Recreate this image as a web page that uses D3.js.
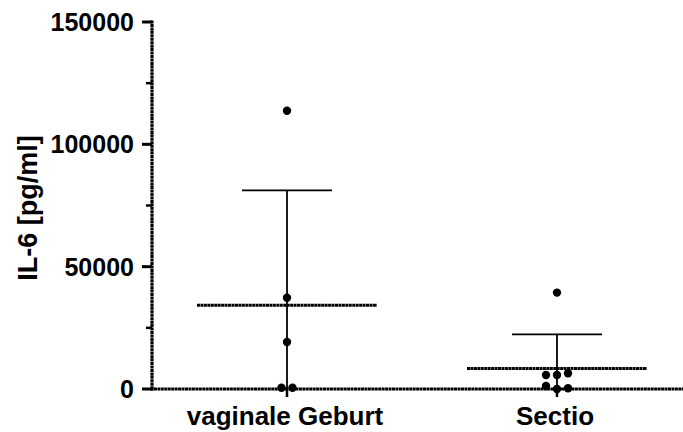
<!DOCTYPE html>
<html>
<head>
<meta charset="utf-8">
<script src="https://cdn.jsdelivr.net/npm/d3@7"></script>
<style>
	html, body { margin: 0; padding: 0; background: #fff; }
	svg { display: block; }
	text { font-family: "Liberation Sans", Arial, sans-serif; font-weight: bold; fill: #000; }
</style>
</head>
<body>
<svg width="683" height="432"></svg>
<script>
(function() {
	"use strict"

	var groups = ["vaginale Geburt", "Sectio"],
		vaginalValues = [113700, 37300, 19200, 500, 500],
		sectioValues = [39400, 5700, 5700, 6400, 1200, 0, 300],
		yTicks = [0, 50000, 100000, 150000],
		yMinorTicks = [25000, 75000, 125000],
		yTitle = "IL-6 [pg/ml]";

	var series = [
		{ name : groups[0], values : vaginalValues },
		{ name : groups[1], values : sectioValues }
	];

	var svg = d3.select("svg"),
		axisX = 152,
		axisY = 389,
		dotRadius = 4.2,
		dotSpacing = 11,
		hatch = "3,0.45";

	var y = d3.scaleLinear().domain([0, 150000]).range([axisY, 22]),
		x = d3.scalePoint().domain(groups).range([axisX, 692]).padding(0.5);

	// beeswarm: points close in y share a row and spread sideways
	function swarm(values) {
		var items = values.map(function(v, i) { return { value : v, index : i }; }),
			sorted = items.slice().sort(function(a, b) { return a.value - b.value; }),
			rows = [],
			row = null;
		sorted.forEach(function(d) {
			if (row && Math.abs(y(d.value) - y(row[0].value)) < 2 * dotRadius + 1) {
				row.push(d);
			} else {
				row = [d];
				rows.push(row);
			}
		});
		rows.forEach(function(r) {
			r.sort(function(a, b) { return a.index - b.index; });
			r.forEach(function(d, i) {
				d.offset = (i - (r.length - 1) / 2) * dotSpacing;
			});
		});
		return items;
	}

	// x axis line
	svg.append("line")
		.attr("x1", axisX - 1.5).attr("x2", 692)
		.attr("y1", axisY).attr("y2", axisY)
		.style("stroke", "#000").style("stroke-width", 3.2)
		.style("stroke-dasharray", hatch);

	// x ticks
	svg.selectAll(".xtick")
		.data(groups)
		.enter()
		.append("line")
			.attr("class", "xtick")
			.attr("x1", function(d) { return x(d); })
			.attr("x2", function(d) { return x(d); })
			.attr("y1", axisY)
			.attr("y2", axisY + 8)
			.style("stroke", "#000").style("stroke-width", 2.5);

	svg.selectAll(".xlabel")
		.data(groups)
		.enter()
		.append("text")
			.attr("class", "xlabel")
			.attr("x", function(d) { return x(d) - 2; })
			.attr("y", 425)
			.attr("text-anchor", "middle")
			.style("font-size", "26px")
			.text(function(d) { return d; });

	// y axis line
	svg.append("line")
		.attr("x1", axisX).attr("x2", axisX)
		.attr("y1", y(150000) - 1.5).attr("y2", axisY + 1.5)
		.style("stroke", "#000").style("stroke-width", 3.2)
		.style("stroke-dasharray", hatch);

	svg.selectAll(".ytick")
		.data(yTicks)
		.enter()
		.append("line")
			.attr("class", "ytick")
			.attr("x1", axisX - 10)
			.attr("x2", axisX)
			.attr("y1", function(d) { return y(d); })
			.attr("y2", function(d) { return y(d); })
			.style("stroke", "#000").style("stroke-width", 3);

	svg.selectAll(".yminor")
		.data(yMinorTicks)
		.enter()
		.append("line")
			.attr("class", "yminor")
			.attr("x1", axisX - 6)
			.attr("x2", axisX)
			.attr("y1", function(d) { return y(d); })
			.attr("y2", function(d) { return y(d); })
			.style("stroke", "#000").style("stroke-width", 2.5);

	svg.selectAll(".ylabel")
		.data(yTicks)
		.enter()
		.append("text")
			.attr("class", "ylabel")
			.attr("x", 134)
			.attr("y", function(d) { return y(d); })
			.attr("dy", "0.36em")
			.attr("text-anchor", "end")
			.style("font-size", "25px")
			.text(function(d) { return d; });

	svg.append("text")
		.attr("transform", "translate(37," + 208 + ") rotate(-90)")
		.attr("text-anchor", "middle")
		.style("font-size", "27px")
		.text(yTitle);

	// groups: mean line, SD error bar, points
	var g = svg.selectAll(".group")
		.data(series)
		.enter()
		.append("g")
			.attr("class", "group");

	g.each(function(s) {
		var sel = d3.select(this),
			cx = x(s.name),
			mean = d3.mean(s.values),
			sd = d3.deviation(s.values),
			lo = Math.max(0, mean - sd);

		sel.append("line")
			.attr("x1", cx).attr("x2", cx)
			.attr("y1", y(mean + sd)).attr("y2", y(lo))
			.style("stroke", "#000").style("stroke-width", 1.8);

		sel.append("line")
			.attr("x1", cx - 45).attr("x2", cx + 45)
			.attr("y1", y(mean + sd)).attr("y2", y(mean + sd))
			.style("stroke", "#000").style("stroke-width", 1.8);

		sel.append("line")
			.attr("x1", cx - 90).attr("x2", cx + 90)
			.attr("y1", y(mean)).attr("y2", y(mean))
			.style("stroke", "#000").style("stroke-width", 3.2)
			.style("stroke-dasharray", hatch);

		sel.selectAll("circle")
			.data(swarm(s.values))
			.enter()
			.append("circle")
				.attr("cx", function(d) { return cx + d.offset; })
				.attr("cy", function(d) { return y(d.value); })
				.attr("r", dotRadius)
				.style("fill", "#000");
	});
})();
</script>
</body>
</html>
